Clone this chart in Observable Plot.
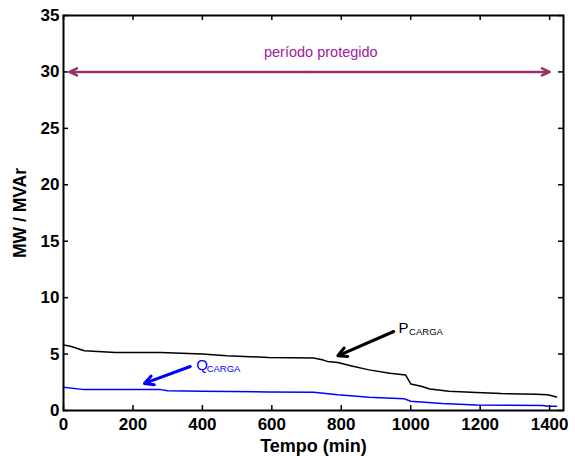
<!DOCTYPE html>
<html>
<head>
<meta charset="utf-8">
<script src="https://cdn.jsdelivr.net/npm/d3@7"></script>
<script src="https://cdn.jsdelivr.net/npm/@observablehq/plot@0.6"></script>
<style>
  html, body { margin: 0; padding: 0; background: white; }
  #chart g[aria-label$="tick label"] text,
  #chart g[aria-label$="label"] text { font-weight: bold; }
</style>
</head>
<body>
<div id="chart"></div>
<script>
// Time (min) and load active power P_CARGA (MW)
const pTime  = [0, 20, 60, 150, 280, 400, 470, 590, 720, 745, 760, 790, 830, 880, 940, 985, 1000, 1030, 1055, 1110, 1190, 1260, 1360, 1395, 1420];
const pValue = [5.8, 5.7, 5.3, 5.15, 5.15, 5.0, 4.85, 4.7, 4.65, 4.5, 4.35, 4.25, 3.95, 3.6, 3.3, 3.15, 2.35, 2.15, 1.9, 1.7, 1.6, 1.5, 1.45, 1.4, 1.2];
// Time (min) and load reactive power Q_CARGA (MVAr)
const qTime  = [0, 60, 280, 300, 400, 590, 720, 790, 880, 980, 1000, 1090, 1190, 1380, 1395, 1420];
const qValue = [2.05, 1.85, 1.85, 1.75, 1.7, 1.65, 1.62, 1.4, 1.18, 1.05, 0.82, 0.62, 0.48, 0.45, 0.38, 0.38];

const xTicks = [0, 200, 400, 600, 800, 1000, 1200, 1400];
const yTicks = [0, 5, 10, 15, 20, 25, 30, 35];

// "período protegido" double arrow (data units)
const periodStart = 17, periodEnd = 1400, periodLevel = 30;
const periodText = ["período protegido"];
const periodTextPos = [741, 31.7];

// annotation arrows: tail -> head
const pArrow = [{x1: 951, y1: 7.0, x2: 790, y2: 4.85}];
const qArrow = [{x1: 365, y1: 3.9, x2: 233, y2: 2.4}];
const seriesLabels = [
  {main: "P", sub: "CARGA", x: 965, y: 7.25, color: "black"},
  {main: "Q", sub: "CARGA", x: 382, y: 4.0, color: "#0000ff"}
];

const P = pTime.map((t, i) => ({t, v: pValue[i]}));
const Q = qTime.map((t, i) => ({t, v: qValue[i]}));
const mid = (periodStart + periodEnd) / 2;
const periodArrows = [
  {x1: mid, x2: periodStart, y: periodLevel},
  {x1: mid, x2: periodEnd, y: periodLevel}
];

const FONT = "'Liberation Sans', Arial, Helvetica, sans-serif";
const W = 575, H = 456, ML = 63, MR = 12, MT = 15, MB = 46;
const TICK = 5;
const innerW = W - ML - MR, innerH = H - MT - MB;

const chart = Plot.plot({
  width: W,
  height: H,
  marginLeft: ML,
  marginRight: MR,
  marginTop: MT,
  marginBottom: MB,
  x: {domain: [0, 1440]},
  y: {domain: [0, 35]},
  style: {fontFamily: FONT, background: "white", color: "black"},
  marks: [
    Plot.line(P, {x: "t", y: "v", stroke: "black", strokeWidth: 1.5}),
    Plot.line(Q, {x: "t", y: "v", stroke: "#0000ff", strokeWidth: 1.5}),
    Plot.arrow(periodArrows, {x1: "x1", y1: "y", x2: "x2", y2: "y", stroke: "#993366", strokeWidth: 2.5, headLength: 5, headAngle: 50}),
    Plot.text(periodText, {x: () => periodTextPos[0], y: () => periodTextPos[1], text: d => d, fill: "#a0209f", fontSize: 14.5, textAnchor: "middle"}),
    Plot.arrow(pArrow, {x1: "x1", y1: "y1", x2: "x2", y2: "y2", stroke: "black", strokeWidth: 3, headLength: 5, headAngle: 55}),
    Plot.arrow(qArrow, {x1: "x1", y1: "y1", x2: "x2", y2: "y2", stroke: "#0000ff", strokeWidth: 3, headLength: 5, headAngle: 55}),
    Plot.text(seriesLabels, {x: "x", y: "y", text: "main", fill: "color", fontSize: 15, textAnchor: "start"}),
    Plot.text(seriesLabels, {x: "x", y: "y", text: "sub", fill: "color", fontSize: 9.5, textAnchor: "start", dx: 10.5, dy: 3.5}),
    // inward ticks on all four sides
    Plot.ruleX(xTicks, {x: d => d, y1: 35, y2: 0, insetTop: innerH - TICK, stroke: "black", strokeWidth: 1.5}),
    Plot.ruleX(xTicks, {x: d => d, y1: 35, y2: 0, insetBottom: innerH - TICK, stroke: "black", strokeWidth: 1.5}),
    Plot.ruleY(yTicks, {y: d => d, x1: 0, x2: 1440, insetRight: innerW - TICK, stroke: "black", strokeWidth: 1.5}),
    Plot.ruleY(yTicks, {y: d => d, x1: 0, x2: 1440, insetLeft: innerW - TICK, stroke: "black", strokeWidth: 1.5}),
    Plot.frame({stroke: "black", strokeWidth: 2}),
    Plot.axisX({ticks: xTicks, tickFormat: d => String(d), tickSize: 0, tickPadding: 7, fontSize: 17, fontWeight: "bold",
      label: null}),
    Plot.axisX({ticks: [], tickSize: 0, fontSize: 18, fontWeight: "bold",
      label: "Tempo (min)", labelAnchor: "center", labelOffset: 41, labelArrow: "none"}),
    Plot.axisY({ticks: yTicks, tickFormat: d => String(d), tickSize: 0, tickPadding: 4, fontSize: 17, fontWeight: "bold",
      label: null}),
    Plot.axisY({ticks: [], tickSize: 0, fontSize: 17.5, fontWeight: "bold",
      label: "MW / MVAr", labelAnchor: "center", labelOffset: 50, labelArrow: "none"})
  ]
});
document.getElementById("chart").appendChild(chart);
</script>
</body>
</html>
